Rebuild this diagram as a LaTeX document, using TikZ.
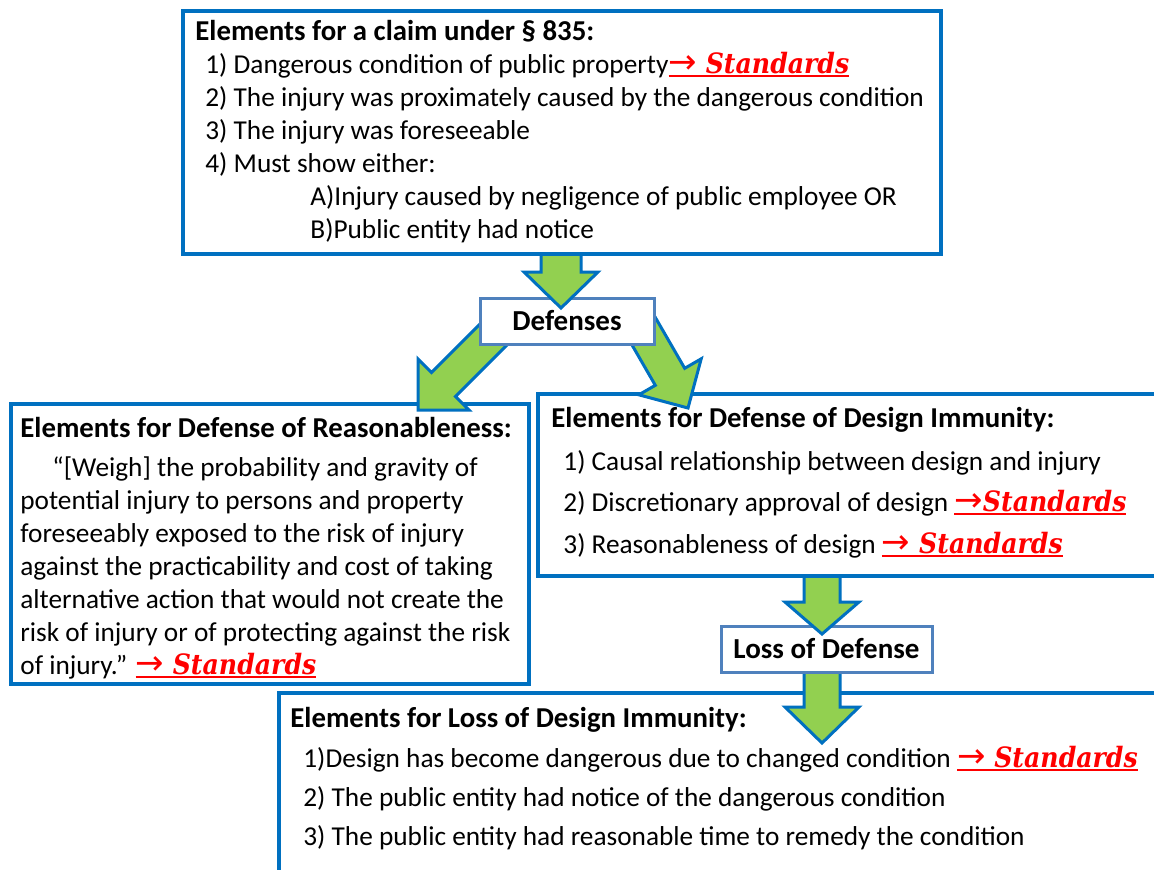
\documentclass[tikz,border=0pt]{standalone}
\usepackage{fontspec}
\setmainfont{Carlito}
\newfontfamily\stdfont{DejaVu Serif}[FakeStretch=0.9]
\newfontfamily\sarrfont{DejaVu Sans}
\definecolor{boxblue}{HTML}{0070C0}
\definecolor{lightblue}{HTML}{4F81BD}
\definecolor{arrowgreen}{HTML}{92D050}
\newcommand\sarr{{\sarrfont\mdseries\upshape\fontsize{17}{17}\selectfont →}}
\newcommand\stdlink[1]{{\color{red}\stdfont\fontsize{14}{16}\selectfont\bfseries\itshape\setbox0\hbox{#1}\rlap{\rule[-2pt]{\wd0}{0.9pt}}\box0}}
\tikzset{
  bigbox/.style={draw=boxblue, line width=2pt, fill=white, rectangle, inner sep=0pt},
  smallbox/.style={draw=lightblue, line width=1.5pt, fill=white, rectangle, inner sep=0pt, font=\fontsize{14.5}{17}\selectfont\bfseries},
  txt/.style={anchor=base west, inner sep=0pt, font=\fontsize{13.65}{16}\selectfont},
  ttl/.style={anchor=base west, inner sep=0pt, font=\fontsize{14.4}{17}\selectfont\bfseries},
  arrowfill/.style={fill=arrowgreen},
  arrowline/.style={draw=boxblue, line width=1.5pt, line join=miter}
}
\begin{document}
\begin{tikzpicture}[x=0.5pt,y=-0.5pt]
\clip (0,0) rectangle (1154,869);
\fill[white] (0,0) rectangle (1154,869);
% lower boxes
\node[bigbox, minimum width=259pt, minimum height=140pt] (reason) at (270,544) {};
\node[bigbox, minimum width=321pt, minimum height=91pt] (design) at (859,485) {};
\node[bigbox, minimum width=450.5pt, minimum height=103.5pt] (lossdi) at (729.5,796.5) {};
% diagonal arrows
\coordinate (la1) at (484.5,319.5); \coordinate (la2) at (431.5,372.5); \coordinate (la3) at (418,359);
\coordinate (la4) at (418,410); \coordinate (la5) at (469,410); \coordinate (la6) at (455.5,396.5); \coordinate (la7) at (508.5,343.5);
\fill[arrowfill] (la1) -- (la2) -- (la3) -- (la4) -- (la5) -- (la6) -- (la7) -- cycle;
\draw[arrowline] (la1) -- (la2) -- (la3) -- (la4) -- (la5) -- (la6) -- (la7);
\coordinate (ra1) at (649.7,307.7); \coordinate (ra2) at (684.7,368.3); \coordinate (ra3) at (701.2,358.8);
\coordinate (ra4) at (688,408); \coordinate (ra5) at (638.8,394.8); \coordinate (ra6) at (655.3,385.3); \coordinate (ra7) at (620.3,324.7);
\fill[arrowfill] (ra1) -- (ra2) -- (ra3) -- (ra4) -- (ra5) -- (ra6) -- (ra7) -- cycle;
\draw[arrowline] (ra1) -- (ra2) -- (ra3) -- (ra4) -- (ra5) -- (ra6) -- (ra7);
% Defenses
\node[smallbox, minimum width=87pt, minimum height=23pt] (def) at (567,321) {Defenses};
% down arrow from claim box
\coordinate (da1) at (541,254); \coordinate (da2) at (541,272); \coordinate (da3) at (524,272);
\coordinate (da4) at (561,308); \coordinate (da5) at (598,272); \coordinate (da6) at (581,272); \coordinate (da7) at (581,254);
\fill[arrowfill] (da1) -- (da2) -- (da3) -- (da4) -- (da5) -- (da6) -- (da7) -- cycle;
\draw[arrowline] (da1) -- (da2) -- (da3) -- (da4) -- (da5) -- (da6) -- (da7);
% claim box
\node[bigbox, minimum width=379pt, minimum height=121.5pt] (claim) at (562,132.5) {};
% Loss of Defense
\node[smallbox, minimum width=105.5pt, minimum height=23pt] (lossdef) at (826.5,649) {Loss of Defense};
\coordinate (ma1) at (804,578); \coordinate (ma2) at (804,602); \coordinate (ma3) at (785,602);
\coordinate (ma4) at (822,634); \coordinate (ma5) at (859,602); \coordinate (ma6) at (840,602); \coordinate (ma7) at (840,578);
\fill[arrowfill] (ma1) -- (ma2) -- (ma3) -- (ma4) -- (ma5) -- (ma6) -- (ma7) -- cycle;
\draw[arrowline] (ma1) -- (ma2) -- (ma3) -- (ma4) -- (ma5) -- (ma6) -- (ma7);
\coordinate (na1) at (804,674); \coordinate (na2) at (804,707); \coordinate (na3) at (785,707);
\coordinate (na4) at (822,743); \coordinate (na5) at (859,707); \coordinate (na6) at (840,707); \coordinate (na7) at (840,674);
\fill[arrowfill] (na1) -- (na2) -- (na3) -- (na4) -- (na5) -- (na6) -- (na7) -- cycle;
\draw[arrowline] (na1) -- (na2) -- (na3) -- (na4) -- (na5) -- (na6) -- (na7);
% claim text
\node[ttl] (c0) at (195,40) {Elements for a claim under \S\ 835:};
\node[txt] (c1) at (205,73) {1) Dangerous condition of public property\stdlink{\sarr\ Standards}};
\node[txt] (c2) at (205,106) {2) The injury was proximately caused by the dangerous condition};
\node[txt] (c3) at (205,139) {3) The injury was foreseeable};
\node[txt] (c4) at (205,172) {4) Must show either:};
\node[txt] (c5) at (310,205) {A)Injury caused by negligence of public employee OR};
\node[txt] (c6) at (310,238) {B)Public entity had notice};
% reasonableness text
\node[ttl] (r0) at (20,437) {Elements for Defense of Reasonableness:};
\node[txt] (r1) at (52,476) {“[Weigh] the probability and gravity of};
\node[txt] (r2) at (20,509) {potential injury to persons and property};
\node[txt] (r3) at (20,542) {foreseeably exposed to the risk of injury};
\node[txt] (r4) at (20,575) {against the practicability and cost of taking};
\node[txt] (r5) at (20,608) {alternative action that would not create the};
\node[txt] (r6) at (20,641) {risk of injury or of protecting against the risk};
\node[txt] (r7) at (20,674) {of injury.” \stdlink{\sarr\ Standards}};
% design immunity text
\node[ttl] (d0) at (551,427) {Elements for Defense of Design Immunity:};
\node[txt] (d1) at (563,470) {1) Causal relationship between design and injury};
\node[txt] (d2) at (563,511) {2) Discretionary approval of design \stdlink{\sarr Standards}};
\node[txt] (d3) at (563,553) {3) Reasonableness of design \stdlink{\sarr\ Standards}};
% loss of design immunity text
\node[ttl] (l0) at (290,727) {Elements for Loss of Design Immunity:};
\node[txt] (l1) at (303,767) {1)Design has become dangerous due to changed condition \stdlink{\sarr\ Standards}};
\node[txt] (l2) at (303,806) {2) The public entity had notice of the dangerous condition};
\node[txt] (l3) at (303,845) {3) The public entity had reasonable time to remedy the condition};
\end{tikzpicture}
\end{document}
